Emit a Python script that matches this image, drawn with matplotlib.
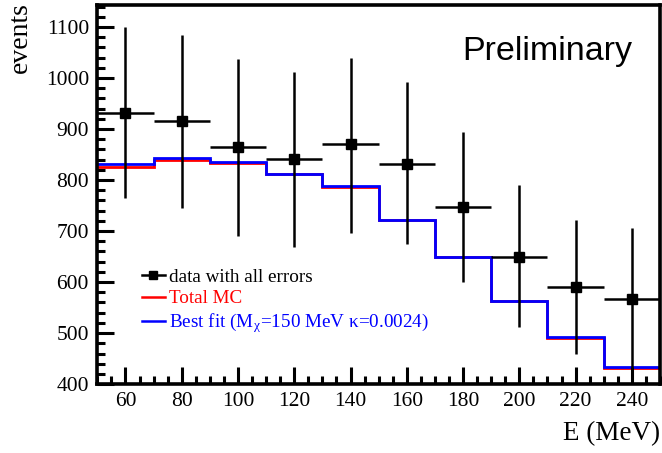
import numpy as np
import matplotlib
matplotlib.use("Agg")
import matplotlib.pyplot as plt
from matplotlib.ticker import MultipleLocator

# bin edges and centres (MeV)
edges = [50, 70, 90, 110, 130, 150, 170, 190, 210, 230, 250]
centres = [60, 80, 100, 120, 140, 160, 180, 200, 220, 240]

# data points with asymmetric errors
data_y = [932, 915, 864, 842, 871, 832, 748, 650, 591, 567]
data_hi = [1100, 1084, 1038, 1011, 1040, 993, 895, 790, 722, 706]
data_lo = [765, 746, 691, 669, 697, 675, 600, 512, 459, 430]

# histograms
total_mc = [826, 840, 834, 811, 786, 721, 649, 562, 491, 432]
best_fit = [832, 844, 836, 812, 789, 722, 650, 563, 492, 433]

plt.rcParams['font.family'] = ['Liberation Serif', 'DejaVu Serif']
plt.rcParams['mathtext.fontset'] = 'stix'

fig = plt.figure(figsize=(6.62, 4.53), dpi=100, facecolor='white')
ax = fig.add_axes([0.147, 0.152, 0.850, 0.837])

ax.stairs(total_mc, edges, color='#ff0000', linewidth=2.0, baseline=None)
ax.stairs(best_fit, edges, color='#0000ff', linewidth=2.0, baseline=None)

yerr = [np.array(data_y) - np.array(data_lo), np.array(data_hi) - np.array(data_y)]
ax.errorbar(centres, data_y, xerr=10, yerr=yerr, fmt='s', color='black',
            markersize=7, elinewidth=1.8, capsize=0)

ax.set_xlim(50, 250)
ax.set_ylim(400, 1143)

ax.xaxis.set_minor_locator(MultipleLocator(5))
ax.yaxis.set_major_locator(MultipleLocator(100))
ax.yaxis.set_minor_locator(MultipleLocator(20))
ax.set_xticks(centres)
ax.tick_params(which='major', direction='in', length=12, width=2.2, labelsize=15.5,
               top=False, right=False, pad=6)
ax.tick_params(which='minor', direction='in', length=6, width=2.2, top=False, right=False)
for s in ax.spines.values():
    s.set_linewidth(2.6)

fig.text(0.997, 0.015, 'E (MeV)', ha='right', va='bottom', fontsize=19.5)
fig.text(0.012, 0.995, 'events', ha='left', va='top', rotation=90, fontsize=20)

ax.text(0.95, 0.876, 'Preliminary', transform=ax.transAxes, ha='right', va='center',
        fontsize=24.5, family='Liberation Sans')

handles = [
    plt.Line2D([], [], color='black', marker='s', markersize=6, linewidth=1.8),
    plt.Line2D([], [], color='#ff0000', linewidth=1.8),
    plt.Line2D([], [], color='#0000ff', linewidth=1.8),
]
labels = ['data with all errors', 'Total MC', 'Best fit (M$_{\\mathregular{χ}}$=150 MeV κ=0.0024)']
leg = ax.legend(handles, labels, loc='upper left', bbox_to_anchor=(0.065, 0.325),
                frameon=False, fontsize=13.8, handlelength=1.2, handletextpad=0.25,
                labelspacing=0.2, borderaxespad=0)
for txt, c in zip(leg.get_texts(), ['black', '#ff0000', '#0000ff']):
    txt.set_color(c)

fig.savefig('out.png', dpi=100)
